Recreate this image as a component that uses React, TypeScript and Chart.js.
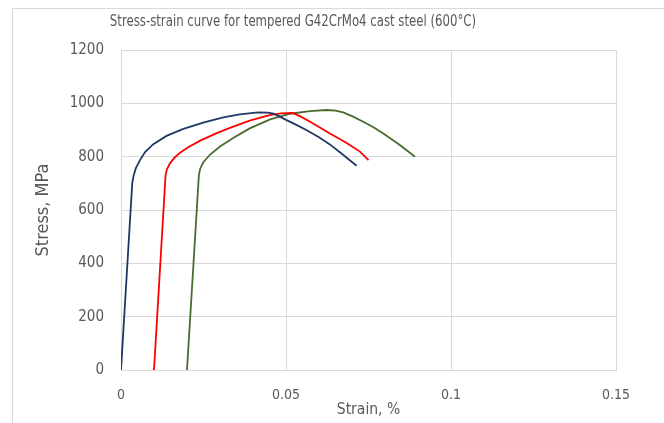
import React, { useEffect, useRef } from "react";
import { Chart, registerables } from "chart.js";

Chart.register(...registerables);

const chartTitle = "Stress-strain curve for tempered G42CrMo4 cast steel (600°C)";
const xAxisTitle = "Strain, %";
const yAxisTitle = "Stress, MPa";
const xTickLabels = ["0", "0.05", "0.1", "0.15"];
const yTickLabels = ["0", "200", "400", "600", "800", "1000", "1200"];

const seriesNames = ["Blue", "Red", "Green"];
const seriesColors = ["#203864", "#ff0000", "#4a6b2e"];

const blueStrain = [0, 0.0034, 0.0038, 0.0045, 0.0058, 0.0073, 0.0098, 0.0138, 0.0189, 0.0249, 0.031, 0.036, 0.0415, 0.0445, 0.0462, 0.048, 0.05, 0.053, 0.0563, 0.06, 0.0633, 0.067, 0.0714];
const blueStress = [0, 700, 728, 757, 788, 817, 847, 878, 904, 928, 947, 959, 966, 965, 961, 951, 938, 920, 899, 873, 846, 810, 766];

const redStrain = [0.01, 0.0135, 0.0139, 0.0148, 0.0162, 0.018, 0.0205, 0.024, 0.029, 0.033, 0.039, 0.045, 0.0485, 0.052, 0.0545, 0.0573, 0.06, 0.0633, 0.066, 0.0685, 0.0724, 0.075];
const redStress = [0, 730, 752, 774, 796, 816, 836, 860, 888, 908, 935, 956, 962, 964, 950, 931, 911, 887, 868, 850, 819, 787];

const greenStrain = [0.02, 0.0236, 0.024, 0.0249, 0.027, 0.03, 0.034, 0.039, 0.0452, 0.0512, 0.0573, 0.0623, 0.065, 0.0673, 0.07, 0.0734, 0.0765, 0.0795, 0.0845, 0.0891];
const greenStress = [0, 731, 755, 778, 808, 838, 870, 906, 940, 961, 971, 975, 973, 966, 952, 931, 910, 887, 844, 800];

const FONT = "'DejaVu Sans Condensed', 'Liberation Sans Narrow', 'Open Sans', sans-serif";
const TEXT_COLOR = "#595959";
const GRID_COLOR = "#d9d9d9";

function toPoints(xs: number[], ys: number[]) {
  return xs.map((x, i) => ({ x, y: ys[i] }));
}

export default function App() {
  const ref = useRef<HTMLCanvasElement | null>(null);

  useEffect(() => {
    document.body.style.margin = "0";
    const canvas = ref.current;
    if (!canvas) return;

    const titlePlugin = {
      id: "customTitle",
      afterDraw(chart: any) {
        const ctx = chart.ctx;
        ctx.save();
        ctx.translate(293, 22);
        ctx.scale(0.87, 1);
        ctx.font = `15px ${FONT}`;
        ctx.fillStyle = TEXT_COLOR;
        ctx.textAlign = "center";
        ctx.textBaseline = "middle";
        ctx.fillText(chartTitle, 0, 0);
        ctx.restore();
      },
    };

    const datasets = [
      toPoints(blueStrain, blueStress),
      toPoints(redStrain, redStress),
      toPoints(greenStrain, greenStress),
    ].map((data, i) => ({
      label: seriesNames[i],
      data,
      showLine: true,
      borderColor: seriesColors[i],
      backgroundColor: seriesColors[i],
      borderWidth: 1.8,
      pointRadius: 0,
      tension: 0,
      fill: false,
    }));

    const chart = new Chart(canvas, {
      type: "scatter",
      data: { datasets },
      plugins: [titlePlugin],
      options: {
        animation: false,
        responsive: false,
        devicePixelRatio: 1,
        layout: { padding: { top: 50, right: 48, left: 0, bottom: 0 } },
        plugins: {
          legend: { display: false },
          title: { display: false },
          tooltip: { enabled: false },
        },
        scales: {
          x: {
            type: "linear",
            min: 0,
            max: 0.15,
            afterFit(s: any) {
              s.height = 53;
              s.paddingLeft = 0;
              s.paddingRight = 0;
            },
            afterBuildTicks(s: any) {
              s.ticks = xTickLabels.map((l) => ({ value: parseFloat(l) }));
            },
            ticks: {
              color: TEXT_COLOR,
              font: { family: FONT, size: 14 },
              padding: 17,
              maxRotation: 0,
              callback: (_v: any, i: number) => xTickLabels[i],
            },
            grid: { color: GRID_COLOR, drawTicks: false, lineWidth: 1 },
            border: { display: true, color: GRID_COLOR },
            title: {
              display: true,
              text: xAxisTitle,
              color: TEXT_COLOR,
              font: { family: FONT, size: 15.5 },
              padding: { top: 0, bottom: 4 },
            },
          },
          y: {
            type: "linear",
            min: 0,
            max: 1200,
            afterFit(s: any) {
              s.width = 121;
              s.paddingTop = 0;
              s.paddingBottom = 0;
            },
            afterBuildTicks(s: any) {
              s.ticks = yTickLabels.map((l) => ({ value: parseFloat(l) }));
            },
            ticks: {
              color: TEXT_COLOR,
              font: { family: FONT, size: 15 },
              padding: 17,
              callback: (_v: any, i: number) => yTickLabels[i],
            },
            grid: { color: GRID_COLOR, drawTicks: false, lineWidth: 1 },
            border: { display: true, color: GRID_COLOR },
            title: {
              display: true,
              text: yAxisTitle,
              color: TEXT_COLOR,
              font: { family: FONT, size: 18 },
              padding: { top: 33, bottom: 0 },
            },
          },
        },
      },
    });

    return () => chart.destroy();
  }, []);

  return (
    <div style={{ position: "absolute", left: 0, top: 0, width: 664, height: 423, background: "#fff" }}>
      <div
        style={{
          position: "absolute",
          left: 12,
          top: 8,
          right: 0,
          bottom: 0,
          borderTop: "1px solid #d9d9d9",
          borderLeft: "1px solid #d9d9d9",
        }}
      />
      <canvas ref={ref} width={664} height={423} style={{ position: "absolute", left: 0, top: 0 }} />
    </div>
  );
}
